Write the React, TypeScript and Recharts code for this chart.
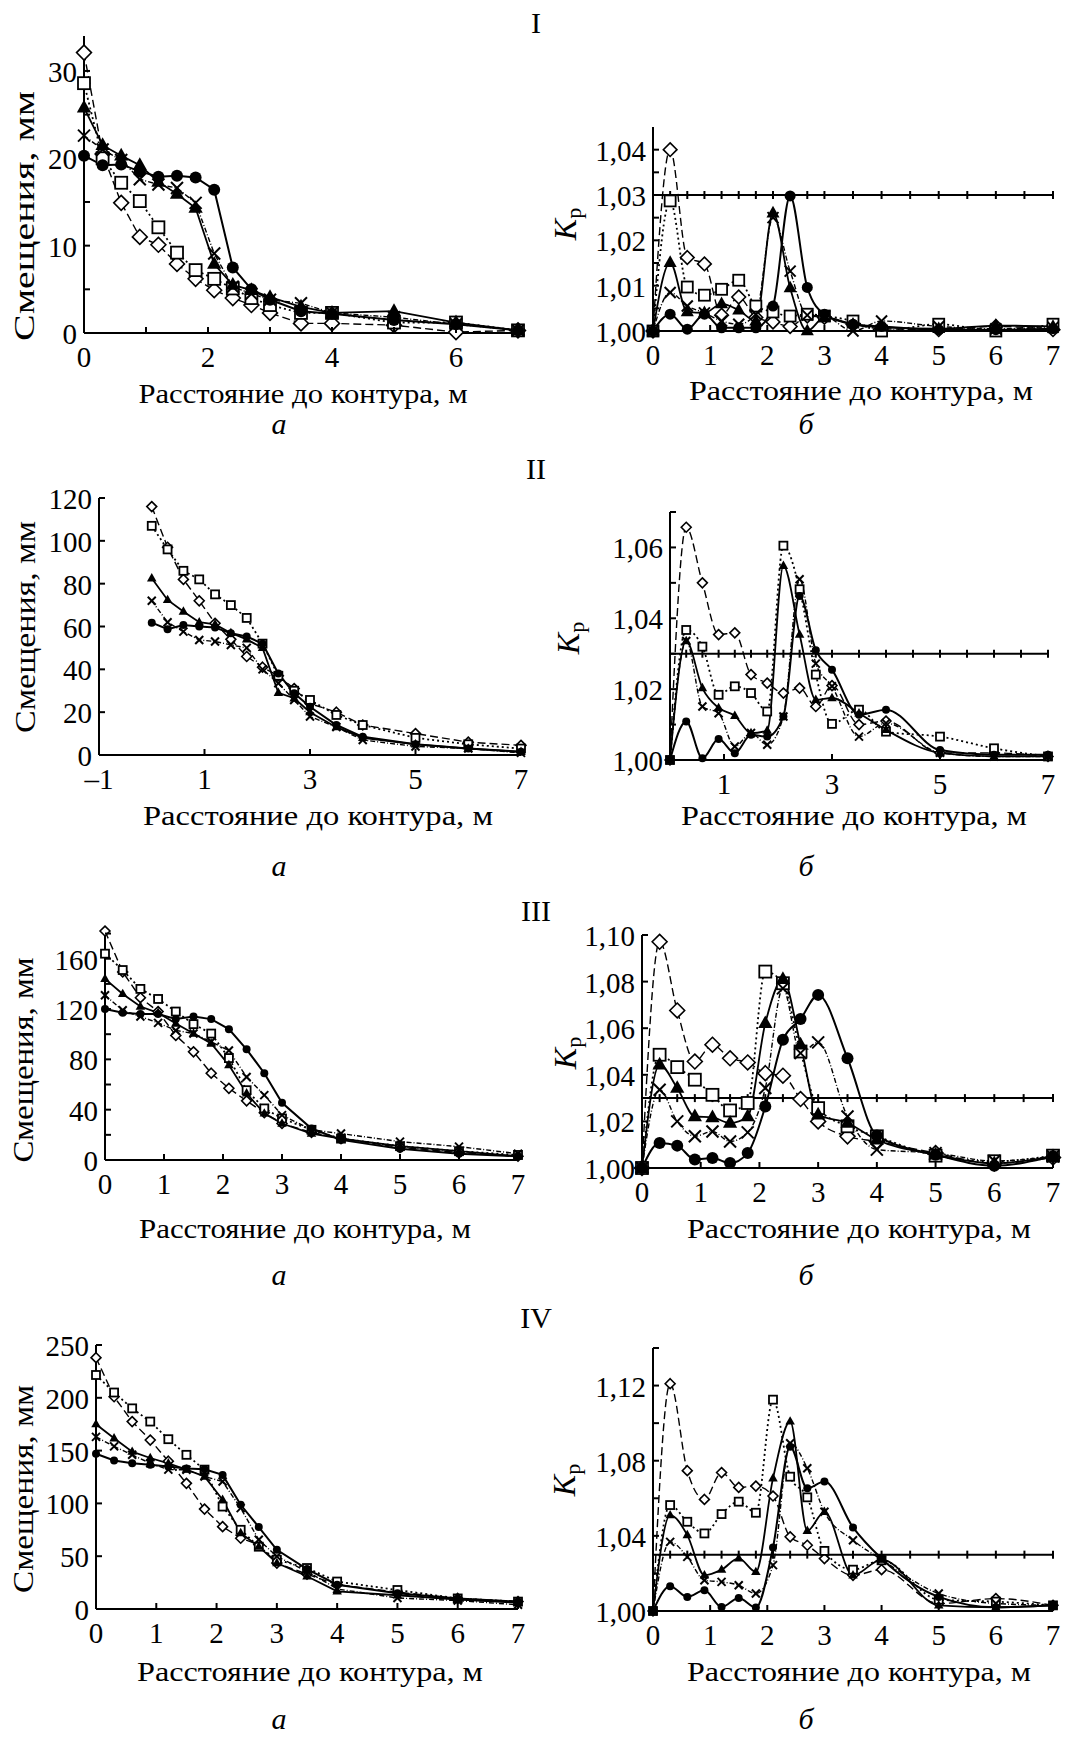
import React from 'react';
import { LineChart, Line, XAxis, YAxis } from 'recharts';

// distances from the contour, m (same for every panel)
const xPos = [0, 0.3, 0.6, 0.9, 1.2, 1.5, 1.8, 2.1, 2.4, 2.7, 3, 3.5, 4, 5, 6, 7];
const kpMarksX = [0, 0.3, 0.6, 0.9, 1.2, 1.5, 1.8, 2.1, 2.4, 2.7, 3, 3.5, 4, 4.5, 5, 5.5, 6, 6.5, 7];
const kpLimit = 1.03;

// I
const iaDiamond = [32.1, 20.5, 14.9, 11.0, 10.1, 7.9, 6.2, 4.9, 4.0, 3.2, 2.3, 1.1, 1.1, 0.9, 0.1, 0.3];
const iaSquare = [28.6, 20.0, 17.2, 15.1, 12.1, 9.2, 7.2, 6.2, 5.1, 4.0, 3.2, 2.3, 2.3, 1.2, 1.2, 0.3];
const iaTriangle = [25.8, 21.5, 20.3, 19.2, 17.3, 15.9, 14.3, 7.9, 5.5, 4.9, 4.1, 3.0, 2.3, 2.5, 1.2, 0.3];
const iaCross = [22.6, 21.0, 19.8, 17.6, 17.0, 16.6, 14.9, 9.1, 5.3, 4.5, 3.8, 3.4, 2.3, 1.8, 1.0, 0.3];
const iaCircle = [20.3, 19.2, 19.3, 18.5, 17.9, 18.0, 17.8, 16.4, 7.5, 5.0, 3.8, 2.5, 2.2, 1.5, 1.0, 0.3];

const ibDiamond = [1.0, 1.04, 1.0162, 1.0148, 1.0035, 1.0075, 1.003, 1.002, 1.001, 1.0033, 1.003, 1.0015, 1.0005, 1.0003, 1.001, 1.0003];
const ibSquare = [1.0, 1.0287, 1.0097, 1.0079, 1.0092, 1.0112, 1.0055, 1.0042, 1.0033, 1.0037, 1.0033, 1.0022, 1.0, 1.0015, 1.0, 1.0015];
const ibTriangle = [1.0, 1.0151, 1.0042, 1.004, 1.006, 1.0046, 1.0022, 1.026, 1.0095, 1.0, 1.003, 1.0015, 1.0008, 1.0005, 1.0012, 1.001];
const ibCross = [1.0, 1.0085, 1.0055, 1.004, 1.0022, 1.0015, 1.0037, 1.025, 1.0132, 1.0035, 1.0033, 1.0, 1.0022, 1.001, 1.0005, 1.0008];
const ibCircle = [1.0, 1.0037, 1.0004, 1.0037, 1.0007, 1.0007, 1.0007, 1.0055, 1.0298, 1.0096, 1.0037, 1.0015, 1.001, 1.0003, 1.0003, 1.0005];

// II
const iiaDiamond = [116, 97, 82, 72, 61.5, 54, 46, 41, 37, 31, 24, 20, 14, 10, 6, 4.5];
const iiaSquare = [107, 96, 86, 82, 75, 70, 64, 52, 37, 30, 25.7, 18.7, 14, 8, 5, 3];
const iiaTriangle = [82.5, 72.4, 67, 62, 61, 57, 54, 50, 29, 26.5, 20, 13, 8, 5, 3, 1.5];
const iiaCross = [72, 62, 57.6, 53.7, 53, 51.4, 50, 40, 33.5, 25.7, 18, 13, 7, 4, 3, 1];
const iiaCircle = [61.8, 58.7, 60.7, 60, 59.5, 56.8, 55.3, 52, 38, 28.8, 22.5, 14, 8.5, 5, 3, 1.5];

const iibDiamond = [1.0, 1.0657, 1.05, 1.0354, 1.0359, 1.0241, 1.0217, 1.0189, 1.0203, 1.0151, 1.021, 1.01, 1.011, 1.002, 1.002, 1.001];
const iibSquare = [1.0, 1.0367, 1.032, 1.0184, 1.0208, 1.0189, 1.0137, 1.0605, 1.0482, 1.0241, 1.0102, 1.0142, 1.008, 1.0066, 1.0033, 1.001];
const iibTriangle = [1.0, 1.0336, 1.0203, 1.0147, 1.0125, 1.0076, 1.0083, 1.0548, 1.0354, 1.017, 1.0175, 1.0132, 1.0085, 1.002, 1.001, 1.001];
const iibCross = [1.0, 1.0336, 1.0151, 1.0132, 1.0038, 1.0076, 1.0043, 1.0123, 1.051, 1.0272, 1.0208, 1.0066, 1.0104, 1.002, 1.001, 1.001];
const iibCircle = [1.0, 1.0109, 1.0005, 1.0059, 1.0019, 1.0071, 1.0066, 1.0123, 1.0463, 1.031, 1.0255, 1.0128, 1.0142, 1.0028, 1.0015, 1.0015];

// III
const iiiaDiamond = [182, 149.5, 129, 118, 99, 86, 69, 57, 47, 37.6, 29, 22, 17, 10, 6, 3];
const iiiaSquare = [164, 151, 136, 128, 118, 108, 100.5, 81, 55.5, 41, 33, 24, 17, 11, 7, 4];
const iiiaTriangle = [144, 132, 122, 117, 108.5, 100.5, 92.6, 75.4, 53, 37, 29, 21, 17, 11, 7, 3];
const iiiaCross = [131, 119, 114, 109, 103, 100.5, 94, 87, 66, 51.6, 35.7, 24, 21, 14.6, 10.6, 5];
const iiiaCircle = [120, 117, 116, 116, 112, 114, 112, 104, 88, 69, 45.5, 25, 16, 9, 5, 3];

const iiibDiamond = [1.0, 1.0971, 1.0676, 1.0457, 1.0529, 1.0471, 1.0453, 1.0407, 1.0396, 1.0296, 1.02, 1.0136, 1.0114, 1.0064, 1.002, 1.0045];
const iiibSquare = [1.0, 1.0486, 1.0433, 1.0379, 1.0314, 1.0247, 1.0279, 1.0843, 1.0793, 1.05, 1.0257, 1.0179, 1.0136, 1.0053, 1.0029, 1.0053];
const iiibTriangle = [1.0, 1.0443, 1.0343, 1.0221, 1.0217, 1.0193, 1.0221, 1.0621, 1.081, 1.0529, 1.0229, 1.0193, 1.0121, 1.0057, 1.002, 1.005];
const iiibCross = [1.0, 1.0336, 1.02, 1.0136, 1.0157, 1.0114, 1.0153, 1.0343, 1.0771, 1.0493, 1.0539, 1.0221, 1.0079, 1.0064, 1.003, 1.005];
const iiibCircle = [1.0, 1.0107, 1.0096, 1.0036, 1.0043, 1.0021, 1.0064, 1.0264, 1.055, 1.0639, 1.0743, 1.0471, 1.0139, 1.0057, 1.001, 1.005];

// IV
const ivaDiamond = [238, 201, 177.5, 160, 140, 119, 94.6, 78, 67, 61, 43.5, 33, 23, 16, 10, 7];
const ivaSquare = [221.6, 205, 190, 177.5, 160.8, 146, 132, 97, 75, 59, 46.7, 38.8, 26, 18, 10, 7];
const ivaTriangle = [175, 161.7, 149, 143, 138, 132, 125.5, 103.4, 72, 59, 43.5, 31, 16.7, 13, 9, 6];
const ivaCross = [163, 154, 146, 138, 132, 131.8, 125.5, 120.7, 95.5, 65.6, 49.8, 35.6, 19, 10.4, 8, 4];
const ivaCircle = [147, 140.6, 138, 136.5, 135, 133, 132.4, 127, 98.7, 77.6, 56, 37.8, 23, 15, 10, 7];

const ivbDiamond = [1.0, 1.121, 1.0747, 1.0594, 1.0737, 1.0658, 1.0665, 1.0612, 1.0395, 1.035, 1.0279, 1.019, 1.022, 1.004, 1.0066, 1.003];
const ivbSquare = [1.0, 1.0564, 1.0475, 1.0413, 1.0516, 1.0582, 1.0523, 1.1125, 1.0715, 1.0605, 1.032, 1.022, 1.027, 1.006, 1.005, 1.003];
const ivbTriangle = [1.0, 1.051, 1.0404, 1.019, 1.022, 1.028, 1.0208, 1.0706, 1.1009, 1.0427, 1.0528, 1.019, 1.0274, 1.003, 1.002, 1.003];
const ivbCross = [1.0, 1.0368, 1.0288, 1.0164, 1.0155, 1.0137, 1.0093, 1.0244, 1.0893, 1.076, 1.0528, 1.0377, 1.0274, 1.0093, 1.004, 1.003];
const ivbCircle = [1.0, 1.0132, 1.0075, 1.011, 1.0021, 1.0069, 1.0018, 1.0338, 1.0875, 1.0653, 1.0689, 1.0445, 1.0279, 1.0075, 1.002, 1.003];

// ticks
const x0to7 = [0, 1, 2, 3, 4, 5, 6, 7];
const iaYTicks = [0, 5, 10, 15, 20, 25, 30];
const iaYLabels = [0, 10, 20, 30];
const ibYTicks = [1, 1.005, 1.01, 1.015, 1.02, 1.025, 1.03, 1.035, 1.04];
const ibYLabels = [1, 1.01, 1.02, 1.03, 1.04];
const iiaXTicks = [-1, 1, 3, 5, 7];
const iiaYTicks = [0, 20, 40, 60, 80, 100, 120];
const iibXTicks = [1, 3, 5, 7];
const iibYTicks = [1, 1.01, 1.02, 1.03, 1.04, 1.05, 1.06, 1.07];
const iibYLabels = [1, 1.02, 1.04, 1.06];
const iiiaYTicks = [0, 20, 40, 60, 80, 100, 120, 140, 160, 180];
const iiiaYLabels = [0, 40, 80, 120, 160];
const iiibYTicks = [1, 1.02, 1.04, 1.06, 1.08, 1.1];
const ivaYTicks = [0, 50, 100, 150, 200, 250];
const ivbYTicks = [1, 1.02, 1.04, 1.06, 1.08, 1.1, 1.12, 1.14];
const ivbYLabels = [1, 1.04, 1.08, 1.12];

const FONT = '"Liberation Serif", "Times New Roman", serif';
const Y_W = 80;
const M_TOP = 28;
const M_RIGHT = 16;
const X_H = 44;
const TM = 7;

const SERIES = [
  { key: 'diamond', dash: '8 4', width: 1.4 },
  { key: 'square', dash: '2 3', width: 1.8 },
  { key: 'triangle', dash: undefined, width: 1.8 },
  { key: 'cross', dash: '5 2 1 2', width: 1.4 },
  { key: 'circle', dash: undefined, width: 2 },
];

const fmtKp = (v: number) => v.toFixed(2).replace('.', ',');
const fmtMm = (v: number) => (v < 0 ? '\u2013' + Math.abs(v) : String(v));
const has = (list: number[], v: number) => list.some((l) => Math.abs(l - v) < 1e-6);

const Marker = ({ shape, cx, cy, size }: { shape: string; cx?: number; cy?: number; size: number }) => {
  if (cx == null || cy == null || isNaN(cx) || isNaN(cy)) return <g />;
  const h = size / 2;
  if (shape === 'diamond') {
    const r = size * 0.62;
    return <polygon points={`${cx},${cy - r} ${cx + r},${cy} ${cx},${cy + r} ${cx - r},${cy}`} fill="#fff" stroke="#000" strokeWidth={1.6} />;
  }
  if (shape === 'square') {
    return <rect x={cx - h} y={cy - h} width={size} height={size} fill="#fff" stroke="#000" strokeWidth={1.8} />;
  }
  if (shape === 'triangle') {
    const r = size * 0.66;
    return <polygon points={`${cx},${cy - r} ${cx + r * 0.9},${cy + r * 0.6} ${cx - r * 0.9},${cy + r * 0.6}`} fill="#000" />;
  }
  if (shape === 'cross') {
    const r = size * 0.5;
    return (
      <g stroke="#000" strokeWidth={2}>
        <line x1={cx - r} y1={cy - r} x2={cx + r} y2={cy + r} />
        <line x1={cx - r} y1={cy + r} x2={cx + r} y2={cy - r} />
      </g>
    );
  }
  return <circle cx={cx} cy={cy} r={size * 0.5} fill="#000" />;
};

const XTick = (props: any) => {
  const { x, y, payload, labels } = props;
  const v = payload.value;
  return (
    <g>
      <line x1={x} x2={x} y1={y - TM} y2={y - TM - 6} stroke="#000" strokeWidth={2} />
      {has(labels, v) && (
        <text x={x} y={y + 17} textAnchor="middle" dominantBaseline="central" fontFamily={FONT} fontSize={29} fill="#000">
          {fmtMm(v)}
        </text>
      )}
    </g>
  );
};

const YTick = (props: any) => {
  const { x, y, payload, labels, kp } = props;
  const v = payload.value;
  return (
    <g>
      <line x1={x + TM} x2={x + TM + 6} y1={y} y2={y} stroke="#000" strokeWidth={2} />
      {has(labels, v) && (
        <text x={x} y={y + 1} textAnchor="end" dominantBaseline="central" fontFamily={FONT} fontSize={29} fill="#000">
          {kp ? fmtKp(v) : fmtMm(v)}
        </text>
      )}
    </g>
  );
};

interface PanelProps {
  rect: [number, number, number, number];
  xDomain: [number, number];
  xTicks: number[];
  xLabels: number[];
  yDomain: [number, number];
  yTicks: number[];
  yLabels: number[];
  kp?: boolean;
  curve: 'linear' | 'monotone';
  size: number;
  series: number[][];
}

const Panel: React.FC<PanelProps> = ({ rect, xDomain, xTicks, xLabels, yDomain, yTicks, yLabels, kp, curve, size, series }) => {
  const [x0, y0, x1, y1] = rect;
  const width = x1 - x0 + Y_W + M_RIGHT;
  const height = y1 - y0 + M_TOP + X_H;
  const rows = xPos.map((x, i) => {
    const row: any = { x };
    SERIES.forEach((s, k) => (row[s.key] = series[k][i]));
    return row;
  });
  const marks = kpMarksX.map((x) => ({ x, limit: kpLimit }));
  return (
    <div style={{ position: 'absolute', left: x0 - Y_W, top: y0 - M_TOP }}>
      <LineChart width={width} height={height} data={rows} margin={{ top: M_TOP, right: M_RIGHT, bottom: 0, left: 0 }}>
        <XAxis
          type="number"
          dataKey="x"
          domain={xDomain}
          ticks={xTicks}
          interval={0}
          height={X_H}
          tickSize={0}
          tickMargin={TM}
          tickLine={false}
          axisLine={{ stroke: '#000', strokeWidth: 2 }}
          tick={(p: any) => <XTick {...p} labels={xLabels} />}
        />
        <YAxis
          type="number"
          domain={yDomain}
          ticks={yTicks}
          interval={0}
          width={Y_W}
          tickSize={0}
          tickMargin={TM}
          tickLine={false}
          axisLine={{ stroke: '#000', strokeWidth: 2 }}
          tick={(p: any) => <YTick {...p} labels={yLabels} kp={kp} />}
        />
        {kp && (
          <Line
            data={marks}
            dataKey="limit"
            type="linear"
            stroke="#000"
            strokeWidth={2}
            isAnimationActive={false}
            dot={(p: any) => (
              <line key={`m${p.index}`} x1={p.cx} x2={p.cx} y1={p.cy - 4} y2={p.cy + 4} stroke="#000" strokeWidth={2} />
            )}
          />
        )}
        {SERIES.map((s) => (
          <Line
            key={s.key}
            dataKey={s.key}
            type={curve}
            stroke="#000"
            strokeWidth={s.width}
            strokeDasharray={s.dash}
            isAnimationActive={false}
            dot={(p: any) => <Marker key={`${s.key}${p.index}`} shape={s.key} cx={p.cx} cy={p.cy} size={size} />}
          />
        ))}
      </LineChart>
    </div>
  );
};

const romans = [
  { t: 'I', y: 22 },
  { t: 'II', y: 468 },
  { t: 'III', y: 910 },
  { t: 'IV', y: 1317 },
];
const subBaselines = [434, 876, 1285, 1729];
const xTitles = [
  [303, 393, 329], [861, 390, 344],
  [318, 815, 350], [854, 815, 346],
  [305, 1228, 332], [859, 1228, 344],
  [310, 1671, 346], [859, 1671, 344],
];
const yTitles = [
  [24, 216, 250],
  [25, 627, 212],
  [23, 1060, 205],
  [23, 1489, 208],
];
const kpTitles = [
  [565, 224],
  [568, 638],
  [565, 1053],
  [564, 1480],
];

const Overlay = () => (
  <svg width={1068} height={1741} style={{ position: 'absolute', left: 0, top: 0, pointerEvents: 'none' }}>
    <g fontFamily={FONT} fill="#000">
      {romans.map((r) => (
        <text key={r.t} x={536} y={r.y} textAnchor="middle" dominantBaseline="central" fontSize={30}>
          {r.t}
        </text>
      ))}
      {subBaselines.map((b, i) => (
        <g key={`s${i}`} fontStyle="italic" fontSize={30}>
          <text x={279} y={b} textAnchor="middle">а</text>
          <text x={806} y={b} textAnchor="middle">б</text>
        </g>
      ))}
      {xTitles.map(([x, y, len], i) => (
        <text
          key={`xt${i}`}
          x={x}
          y={y}
          textAnchor="middle"
          dominantBaseline="central"
          fontSize={28}
          textLength={len}
          lengthAdjust="spacingAndGlyphs"
        >
          Расстояние до контура, м
        </text>
      ))}
      {yTitles.map(([x, y, len], i) => (
        <text
          key={`yt${i}`}
          transform={`translate(${x},${y}) rotate(-90)`}
          textAnchor="middle"
          dominantBaseline="central"
          fontSize={29}
          textLength={len}
          lengthAdjust="spacingAndGlyphs"
        >
          Смещения, мм
        </text>
      ))}
      {kpTitles.map(([x, y], i) => (
        <text key={`kp${i}`} transform={`translate(${x},${y}) rotate(-90)`} textAnchor="middle" dominantBaseline="central" fontSize={32}>
          <tspan fontStyle="italic">K</tspan>
          <tspan fontSize={22} dy={8}>р</tspan>
        </text>
      ))}
    </g>
  </svg>
);

export default function App() {
  return (
    <div style={{ position: 'absolute', left: 0, top: 0, width: 1068, height: 1741, background: '#fff', overflow: 'hidden' }}>
      <Panel rect={[84, 36, 518, 333]} xDomain={[0, 7]} xTicks={x0to7} xLabels={[0, 2, 4, 6]} yDomain={[0, 34]} yTicks={iaYTicks} yLabels={iaYLabels} curve="linear" size={12}
        series={[iaDiamond, iaSquare, iaTriangle, iaCross, iaCircle]} />
      <Panel rect={[653, 127, 1053, 331]} xDomain={[0, 7]} xTicks={x0to7} xLabels={x0to7} yDomain={[1, 1.045]} yTicks={ibYTicks} yLabels={ibYLabels} kp curve="monotone" size={11}
        series={[ibDiamond, ibSquare, ibTriangle, ibCross, ibCircle]} />
      <Panel rect={[99, 498, 521, 755]} xDomain={[-1, 7]} xTicks={iiaXTicks} xLabels={iiaXTicks} yDomain={[0, 120]} yTicks={iiaYTicks} yLabels={iiaYTicks} curve="linear" size={8}
        series={[iiaDiamond, iiaSquare, iiaTriangle, iiaCross, iiaCircle]} />
      <Panel rect={[670, 512, 1048, 760]} xDomain={[0, 7]} xTicks={iibXTicks} xLabels={iibXTicks} yDomain={[1, 1.07]} yTicks={iibYTicks} yLabels={iibYLabels} kp curve="monotone" size={8}
        series={[iibDiamond, iibSquare, iibTriangle, iibCross, iibCircle]} />
      <Panel rect={[105, 926, 518, 1160]} xDomain={[0, 7]} xTicks={x0to7} xLabels={x0to7} yDomain={[0, 186]} yTicks={iiiaYTicks} yLabels={iiiaYLabels} curve="linear" size={8}
        series={[iiiaDiamond, iiiaSquare, iiiaTriangle, iiiaCross, iiiaCircle]} />
      <Panel rect={[642, 935, 1053, 1168]} xDomain={[0, 7]} xTicks={x0to7} xLabels={x0to7} yDomain={[1, 1.1]} yTicks={iiibYTicks} yLabels={iiibYTicks} kp curve="monotone" size={12}
        series={[iiibDiamond, iiibSquare, iiibTriangle, iiibCross, iiibCircle]} />
      <Panel rect={[96, 1345, 518, 1609]} xDomain={[0, 7]} xTicks={x0to7} xLabels={x0to7} yDomain={[0, 250]} yTicks={ivaYTicks} yLabels={ivaYTicks} curve="linear" size={8}
        series={[ivaDiamond, ivaSquare, ivaTriangle, ivaCross, ivaCircle]} />
      <Panel rect={[653, 1348, 1053, 1611]} xDomain={[0, 7]} xTicks={x0to7} xLabels={x0to7} yDomain={[1, 1.14]} yTicks={ivbYTicks} yLabels={ivbYLabels} kp curve="monotone" size={8}
        series={[ivbDiamond, ivbSquare, ivbTriangle, ivbCross, ivbCircle]} />
      <Overlay />
    </div>
  );
}
